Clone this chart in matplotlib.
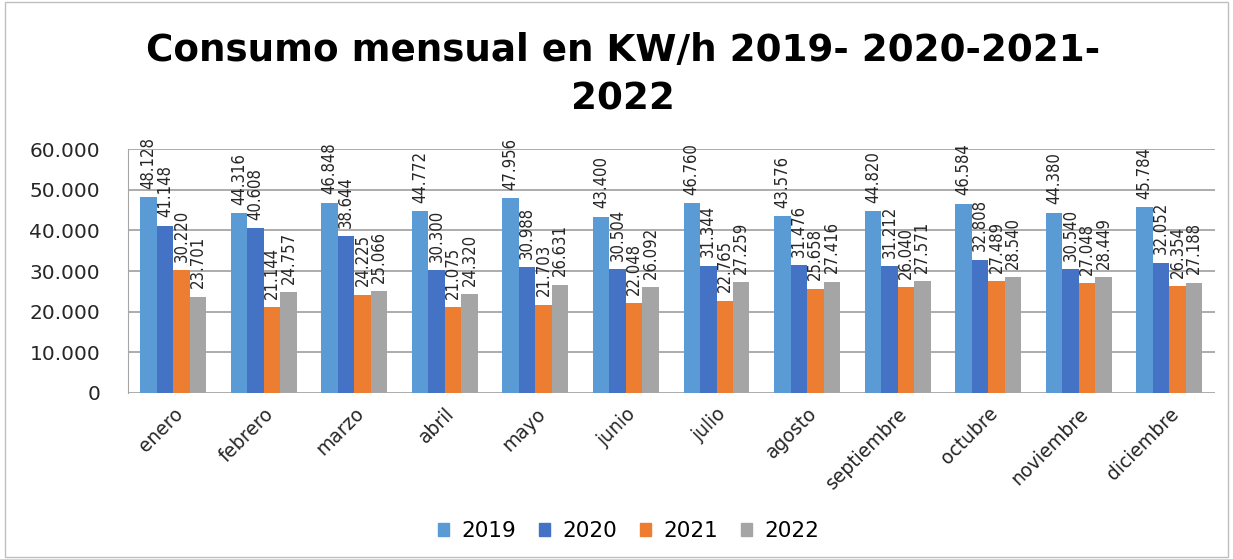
import matplotlib.pyplot as plt
import matplotlib.ticker as mticker
import matplotlib.patches as mpatches
import numpy as np

# Monthly consumption (KW/h) per year
months = ['enero', 'febrero', 'marzo', 'abril', 'mayo', 'junio', 'julio',
          'agosto', 'septiembre', 'octubre', 'noviembre', 'diciembre']
y2019 = [48128, 44316, 46848, 44772, 47956, 43400, 46760, 43576, 44820, 46584, 44380, 45784]
y2020 = [41148, 40608, 38644, 30300, 30988, 30504, 31344, 31476, 31212, 32808, 30540, 32052]
y2021 = [30220, 21144, 24225, 21075, 21703, 22048, 22765, 25658, 26040, 27489, 27048, 26354]
y2022 = [23701, 24757, 25066, 24320, 26631, 26092, 27259, 27416, 27571, 28540, 28449, 27188]

series = [('2019', y2019, '#5B9BD5'),
          ('2020', y2020, '#4472C4'),
          ('2021', y2021, '#ED7D31'),
          ('2022', y2022, '#A5A5A5')]


def miles(v, pos=None):
    return f'{int(v):,}'.replace(',', '.')


fig = plt.figure(figsize=(12.33, 5.59), dpi=100)
ax = fig.add_axes([0.1038, 0.297, 0.8812, 0.436])

x = np.arange(len(months))
width = 0.182

for i, (name, vals, color) in enumerate(series):
    pos = x + (i - 1.5) * width
    bars = ax.bar(pos, vals, width, color=color, label=name, zorder=3)
    for b, v in zip(bars, vals):
        ax.annotate(miles(v), (b.get_x() + b.get_width() / 2, b.get_height()),
                    xytext=(0, 6), textcoords='offset points',
                    rotation=90, ha='center', va='bottom', fontsize=12,
                    family='DejaVu Sans', fontstretch='condensed',
                    color='#262626', zorder=4)

ax.set_xlim(-0.5, len(months) - 0.5)
ax.set_ylim(0, 60000)
ax.yaxis.set_major_locator(mticker.MultipleLocator(10000))
ax.yaxis.set_major_formatter(mticker.FuncFormatter(miles))
ax.grid(axis='y', color='#A6A6A6', linewidth=1.3, zorder=0)

ax.set_xticks(x)
ax.set_xticklabels(months, rotation=45, ha='right', rotation_mode='anchor')
ax.tick_params(axis='x', length=0, labelsize=13.5, colors='#262626', pad=8)
ax.tick_params(axis='y', length=0, labelsize=14.5, colors='#262626', pad=20)

for s in ['top', 'right', 'bottom']:
    ax.spines[s].set_visible(False)
ax.spines['left'].set_color('#A6A6A6')

fig.text(0.505, 0.866, 'Consumo mensual en KW/h 2019- 2020-2021-\n2022',
         ha='center', va='center', fontsize=26.8, fontweight='bold',
         linespacing=1.38)

handles = [mpatches.Patch(color=c, label=n) for n, _, c in series]
fig.legend(handles=handles, loc='center', bbox_to_anchor=(0.51, 0.05),
           ncol=4, frameon=False, fontsize=15.5, handlelength=0.5,
           handleheight=0.5, columnspacing=1.05, handletextpad=0.6)

fig.patches.append(mpatches.Rectangle((0.004, 0.004), 0.992, 0.992,
                                      transform=fig.transFigure, fill=False,
                                      edgecolor='#BFBFBF', linewidth=1))

fig.savefig('out.png', dpi=100)
